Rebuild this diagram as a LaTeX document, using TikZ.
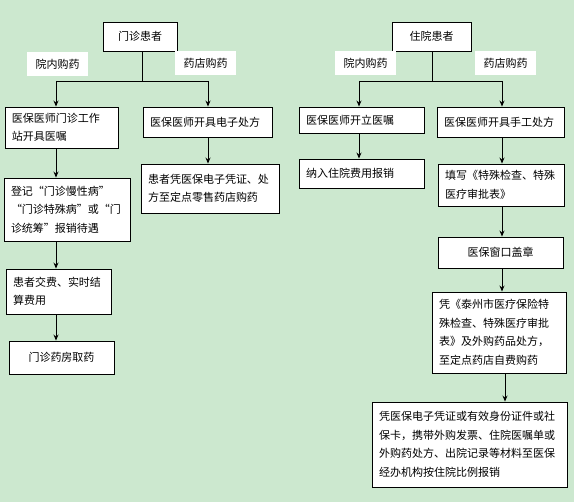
\documentclass[tikz,border=0pt]{standalone}
\usepackage{fontspec}
\setmainfont{Noto Sans CJK SC}
\usetikzlibrary{arrows.meta}
\definecolor{bg}{RGB}{204,232,207}
\tikzset{
  box/.style={draw=black, fill=white, line width=0.9pt, inner xsep=7pt, inner ysep=2pt,
    font=\fontsize{11}{18.5}\selectfont, align=left},
  cbox/.style={box, align=center},
  lbl/.style={fill=white, inner sep=0pt, font=\fontsize{11}{13}\selectfont, minimum width=61pt, minimum height=24pt},
  conn/.style={line width=0.9pt},
  arr/.style={conn, -{Stealth[length=6pt,width=5pt]}}
}
\begin{document}
\begin{tikzpicture}[x=1pt,y=-1pt]
\fill[bg] (0,0) rectangle (574,502);
\useasboundingbox (0,0) rectangle (574,502);
% left column
\node[cbox, minimum width=74pt, minimum height=29pt] (mz) at (140,36.5) {门诊患者};
\node[lbl] (l1) at (57.5,64) {院内购药};
\node[lbl] (l2) at (205.5,63) {药店购药};
\node[box, minimum width=113pt, minimum height=41pt, text width=99pt] (b1) at (61.5,127.5) {医保医师门诊工作\\站开具医嘱};
\node[box, minimum width=129pt, minimum height=30pt, text width=115pt] (b2) at (207.5,122) {医保医师开具电子处方};
\node[box, minimum width=138pt, minimum height=49pt, text width=124pt] (b2b) at (210,188.5) {患者凭医保电子凭证、处\\方至定点零售药店购药};
\node[box, minimum width=126pt, minimum height=63pt, text width=112pt] (b3) at (67,209.5) {登记“门诊慢性病”\\“门诊特殊病”或“门\\诊统筹”报销待遇};
\node[box, minimum width=105pt, minimum height=45pt, text width=91pt] (b4) at (58.5,291.5) {患者交费、实时结\\算费用};
\node[cbox, minimum width=105pt, minimum height=33pt] (b5) at (61.5,357.5) {门诊药房取药};
\coordinate (jm) at (142,81);
\coordinate (jl) at (56,81);
\coordinate (jr) at (208,81);
\draw[conn] (mz.south -| jm) -- (jm);
\draw[conn] (jl) -- (jr);
\draw[arr] (jl) -- (b1.north -| jl);
\draw[arr] (jr) -- (b2.north -| jr);
\draw[arr] (b2.south -| jr) -- (b2b.north -| jr);
\draw[arr] (b1.south -| jl) -- (b3.north -| jl);
\draw[arr] (b3.south -| jl) -- (b4.north -| jl);
\draw[arr] (b4.south -| jl) -- (b5.north -| jl);
% right column
\node[cbox, minimum width=79pt, minimum height=29pt] (zy) at (431.5,36.5) {住院患者};
\node[lbl] (l3) at (365.5,63) {院内购药};
\node[lbl] (l4) at (505.5,63) {药店购药};
\node[box, minimum width=125pt, minimum height=26pt, text width=111pt] (c1) at (361.5,120) {医保医师开立医嘱};
\node[box, minimum width=127pt, minimum height=30pt, text width=113pt] (c2) at (500.5,122) {医保医师开具手工处方};
\node[box, minimum width=125pt, minimum height=29pt, text width=111pt] (c1b) at (361.5,173.5) {纳入住院费用报销};
\node[box, minimum width=126pt, minimum height=42pt, text width=112pt] (c2b) at (501,185) {填写《特殊检查、特殊\\医疗审批表》};
\node[cbox, minimum width=125pt, minimum height=31pt] (c3) at (500.5,252.5) {医保窗口盖章};
\node[box, minimum width=134pt, minimum height=81pt, text width=120pt] (c4) at (499,332.5) {凭《泰州市医疗保险特\\殊检查、特殊医疗审批\\表》及外购药品处方，\\至定点药店自费购药};
\node[box, minimum width=195pt, minimum height=85pt, text width=181pt] (c5) at (469.5,444.5) {凭医保电子凭证或有效身份证件或社\\保卡，携带外购发票、住院医嘱单或\\外购药处方、出院记录等材料至医保\\经办机构按住院比例报销};
\coordinate (km) at (432,81);
\coordinate (kl) at (359,81);
\coordinate (kr) at (502,81);
\coordinate (kx) at (505,81);
\draw[conn] (zy.south -| km) -- (km);
\draw[conn] (kl) -- (kr);
\draw[arr] (kl) -- (c1.north -| kl);
\draw[arr] (kr) -- (c2.north -| kr);
\draw[arr] (c1.south -| kl) -- (c1b.north -| kl);
\draw[arr] (c2.south -| kr) -- (c2b.north -| kr);
\draw[arr] (c2b.south -| kr) -- (c3.north -| kr);
\draw[arr] (c3.south -| kr) -- (c4.north -| kr);
\draw[arr] (c4.south -| kx) -- (c5.north -| kx);
\end{tikzpicture}
\end{document}
